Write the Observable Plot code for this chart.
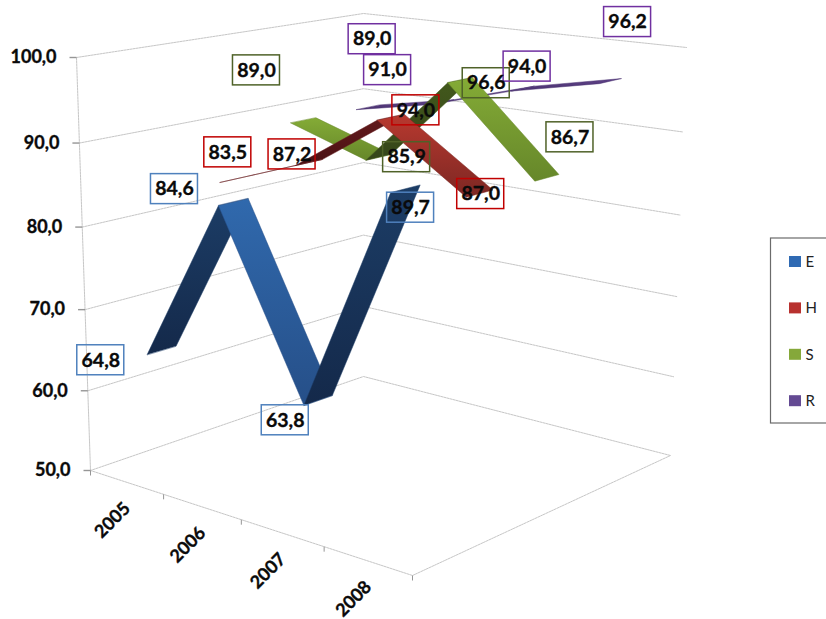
<!DOCTYPE html>
<html><head><meta charset="utf-8">
<script src="https://cdn.jsdelivr.net/npm/d3@7"></script>
<script src="https://cdn.jsdelivr.net/npm/@observablehq/plot@0.6"></script>
<style>html,body{margin:0;padding:0;background:#fff;overflow:hidden}svg{display:block}</style>
</head><body><div id="chart"></div>
<script>
const years = ["2005","2006","2007","2008"];
const seriesNames = ["E","H","S","R"];
const valuesE = [64.8,84.6,63.8,89.7];
const valuesH = [83.5,87.2,94.0,87.0];
const valuesS = [89.0,85.9,96.6,86.7];
const valuesR = [89.0,91.0,94.0,96.2];
const valueTicks = [50,60,70,80,90,100];
const allValues = [valuesE,valuesH,valuesS,valuesR];

// styles per series
const lightFrom = ["#3069ad","#b8392f","#84ab36","#5f4288"];
const lightTo   = ["#264f88","#7c2723","#66872a","#4a3270"];
const darkFrom  = ["#1c3d66","#641a1c","#43591c","#3f2a62"];
const darkTo    = ["#14294a","#4a1114","#35461a","#32204e"];
const boxStroke = ["#4f81bd","#c00000","#4f6228","#7030a0"];
const legendFill= ["#2f6ab3","#b8312f","#85a83a","#644a93"];

// where each data label sits relative to its point, in pixels
const labelDx = [[-61,-59,-33,5],[-6,-17,25,1],[-47,28,26,23],[4,-55,4,17]];
const labelDy = [[10,-13,20,19],[-27,-8,-7,0.5],[-50,0,3,-40.5],[-68,-32,-22,-59]];

// camera: screen corners of the chart box (front-left, front-right, back-right, back-left)
const floorCorners = [[90,470],[412,575],[670,455],[363,376]];
const topCorners   = [[76,57],[414,108],[686,47],[363,13]];
const homography = q => {
  const [[x0,y0],[x1,y1],[x2,y2],[x3,y3]] = q;
  const dx1=x1-x2,dx2=x3-x2,sx=x0-x1+x2-x3,dy1=y1-y2,dy2=y3-y2,sy=y0-y1+y2-y3;
  const det=dx1*dy2-dx2*dy1, g=(sx*dy2-dx2*sy)/det, h=(dx1*sy-sx*dy1)/det;
  const a=x1-x0+g*x1,b=x3-x0+h*x3,d=y1-y0+g*y1,e=y3-y0+h*y3;
  return (u,v)=>{const k=g*u+h*v+1;return [(a*u+b*v+x0)/k,(d*u+e*v+y0)/k];};
};
const floorH = homography(floorCorners), topH = homography(topCorners);
const project = (u,v,val) => {
  const t0=(val-50)/50, t=t0/(t0+(1-t0)*1.045);
  const f=floorH(u,v), c=topH(u,v);
  return {x:f[0]+(c[0]-f[0])*t, y:f[1]+(c[1]-f[1])*t};
};
const uOf = i => (i+0.5)/years.length;
const vOf = s => (s+0.5)/seriesNames.length;
const halfDepth = 0.047;
const fmt = w => d3.format(".1f")(w).replace(".",",");

const gridOpts = {x:"x",y:"y",stroke:"#c6c6c6",strokeWidth:1,strokeDasharray:"2 1"};
const boldText = {fontFamily:"Lato",fontWeight:"bold",fill:"#0a0a0a",stroke:"#0a0a0a",strokeWidth:0.35};
const marks = [];
// walls and floor
for (const w of valueTicks) {
  marks.push(Plot.line([project(0,0,w),project(0,1,w),project(1,1,w)],gridOpts));
}
marks.push(Plot.line([project(0,0,50),project(0,0,100)],gridOpts));
marks.push(Plot.line([project(0,0,50),project(1,0,50),project(1,1,50)],gridOpts));

// axis ticks and labels
const valuePts = valueTicks.map(w=>({w,...project(0,0,w)}));
marks.push(Plot.link(valuePts,{x1:d=>d.x-7,x2:"x",y1:"y",y2:"y",stroke:"#969696",strokeWidth:1.4}));
marks.push(Plot.text(valuePts,{x:"x",y:"y",text:d=>fmt(d.w),textAnchor:"end",dx:-20,fontSize:18,...boldText}));
const catTicks = d3.range(years.length+1).map(i=>project(i/years.length,0,50));
marks.push(Plot.link(catTicks,{x1:"x",x2:"x",y1:"y",y2:d=>d.y+5,stroke:"#969696",strokeWidth:1}));
marks.push(Plot.text(years.map((t,i)=>({t,...project(uOf(i),0,50)})),{x:"x",y:"y",text:"t",rotate:-45,dx:-14,dy:38,fontSize:18,...boldText}));

// ribbons: back series first
for (let s=seriesNames.length-1;s>=0;s--) {
  const vals=allValues[s], v=vOf(s);
  for (let i=0;i<vals.length-1;i++) {
    const a=uOf(i),b=uOf(i+1);
    const q=[project(a,v-halfDepth,vals[i]),project(b,v-halfDepth,vals[i+1]),project(b,v+halfDepth,vals[i+1]),project(a,v+halfDepth,vals[i])];
    let area=0; q.forEach((p,k)=>{const n=q[(k+1)%4];area+=p.x*n.y-n.x*p.y;});
    const face = area<0 ? "top" : "under";
    marks.push(Plot.line(q,{x:"x",y:"y",curve:"linear-closed",fill:`url(#g-${s}-${face})`,
      stroke:face==="top"?lightTo[s]:darkFrom[s],strokeWidth:0.5}));
  }
}

// data labels: transparent boxes with value text
const labelRows = allValues.flatMap((vals,s)=>vals.map((w,i)=>{
  const p=project(uOf(i),vOf(s),w);
  return {s,w,x:p.x+labelDx[s][i],y:p.y+labelDy[s][i]};
}));
marks.push(Plot.rect(labelRows,{x1:d=>d.x-23.5,x2:d=>d.x+23.5,y1:d=>d.y-15,y2:d=>d.y+15,fill:"none",stroke:d=>boxStroke[d.s],strokeWidth:1.5}));
marks.push(Plot.text(labelRows,{x:"x",y:"y",text:d=>fmt(d.w),fontSize:19.5,...boldText}));

// legend
marks.push(Plot.rect([{}],{x1:()=>770.5,x2:()=>830,y1:()=>238,y2:()=>423,fill:"none",stroke:"#6b6b6b",strokeWidth:1.2}));
const legendRows = seriesNames.map((n,i)=>({n,i,y:261.5+i*46.4}));
marks.push(Plot.rect(legendRows,{x1:()=>789,x2:()=>801,y1:d=>d.y-5.5,y2:d=>d.y+5.5,fill:d=>legendFill[d.i]}));
marks.push(Plot.text(legendRows,{x:()=>805,y:"y",text:"n",textAnchor:"start",fontFamily:"Lato",fontSize:15,fill:"#222"}));

const svg = Plot.plot({width:826,height:619,margin:0,
  x:{domain:[0,826],range:[0,826],axis:null},y:{domain:[0,619],range:[0,619],axis:null},
  style:{background:"#fff"},marks});
const defs=d3.select(svg).insert("defs",":first-child");
seriesNames.forEach((_,s)=>{
  for (const [face,c0,c1] of [["top",lightFrom[s],lightTo[s]],["under",darkFrom[s],darkTo[s]]]) {
    const g=defs.append("linearGradient").attr("id",`g-${s}-${face}`).attr("x1",0).attr("y1",0).attr("x2",0).attr("y2",1);
    g.append("stop").attr("offset",0).attr("stop-color",c0);
    g.append("stop").attr("offset",1).attr("stop-color",c1);
  }
});
document.getElementById("chart").append(svg);
</script></body></html>
